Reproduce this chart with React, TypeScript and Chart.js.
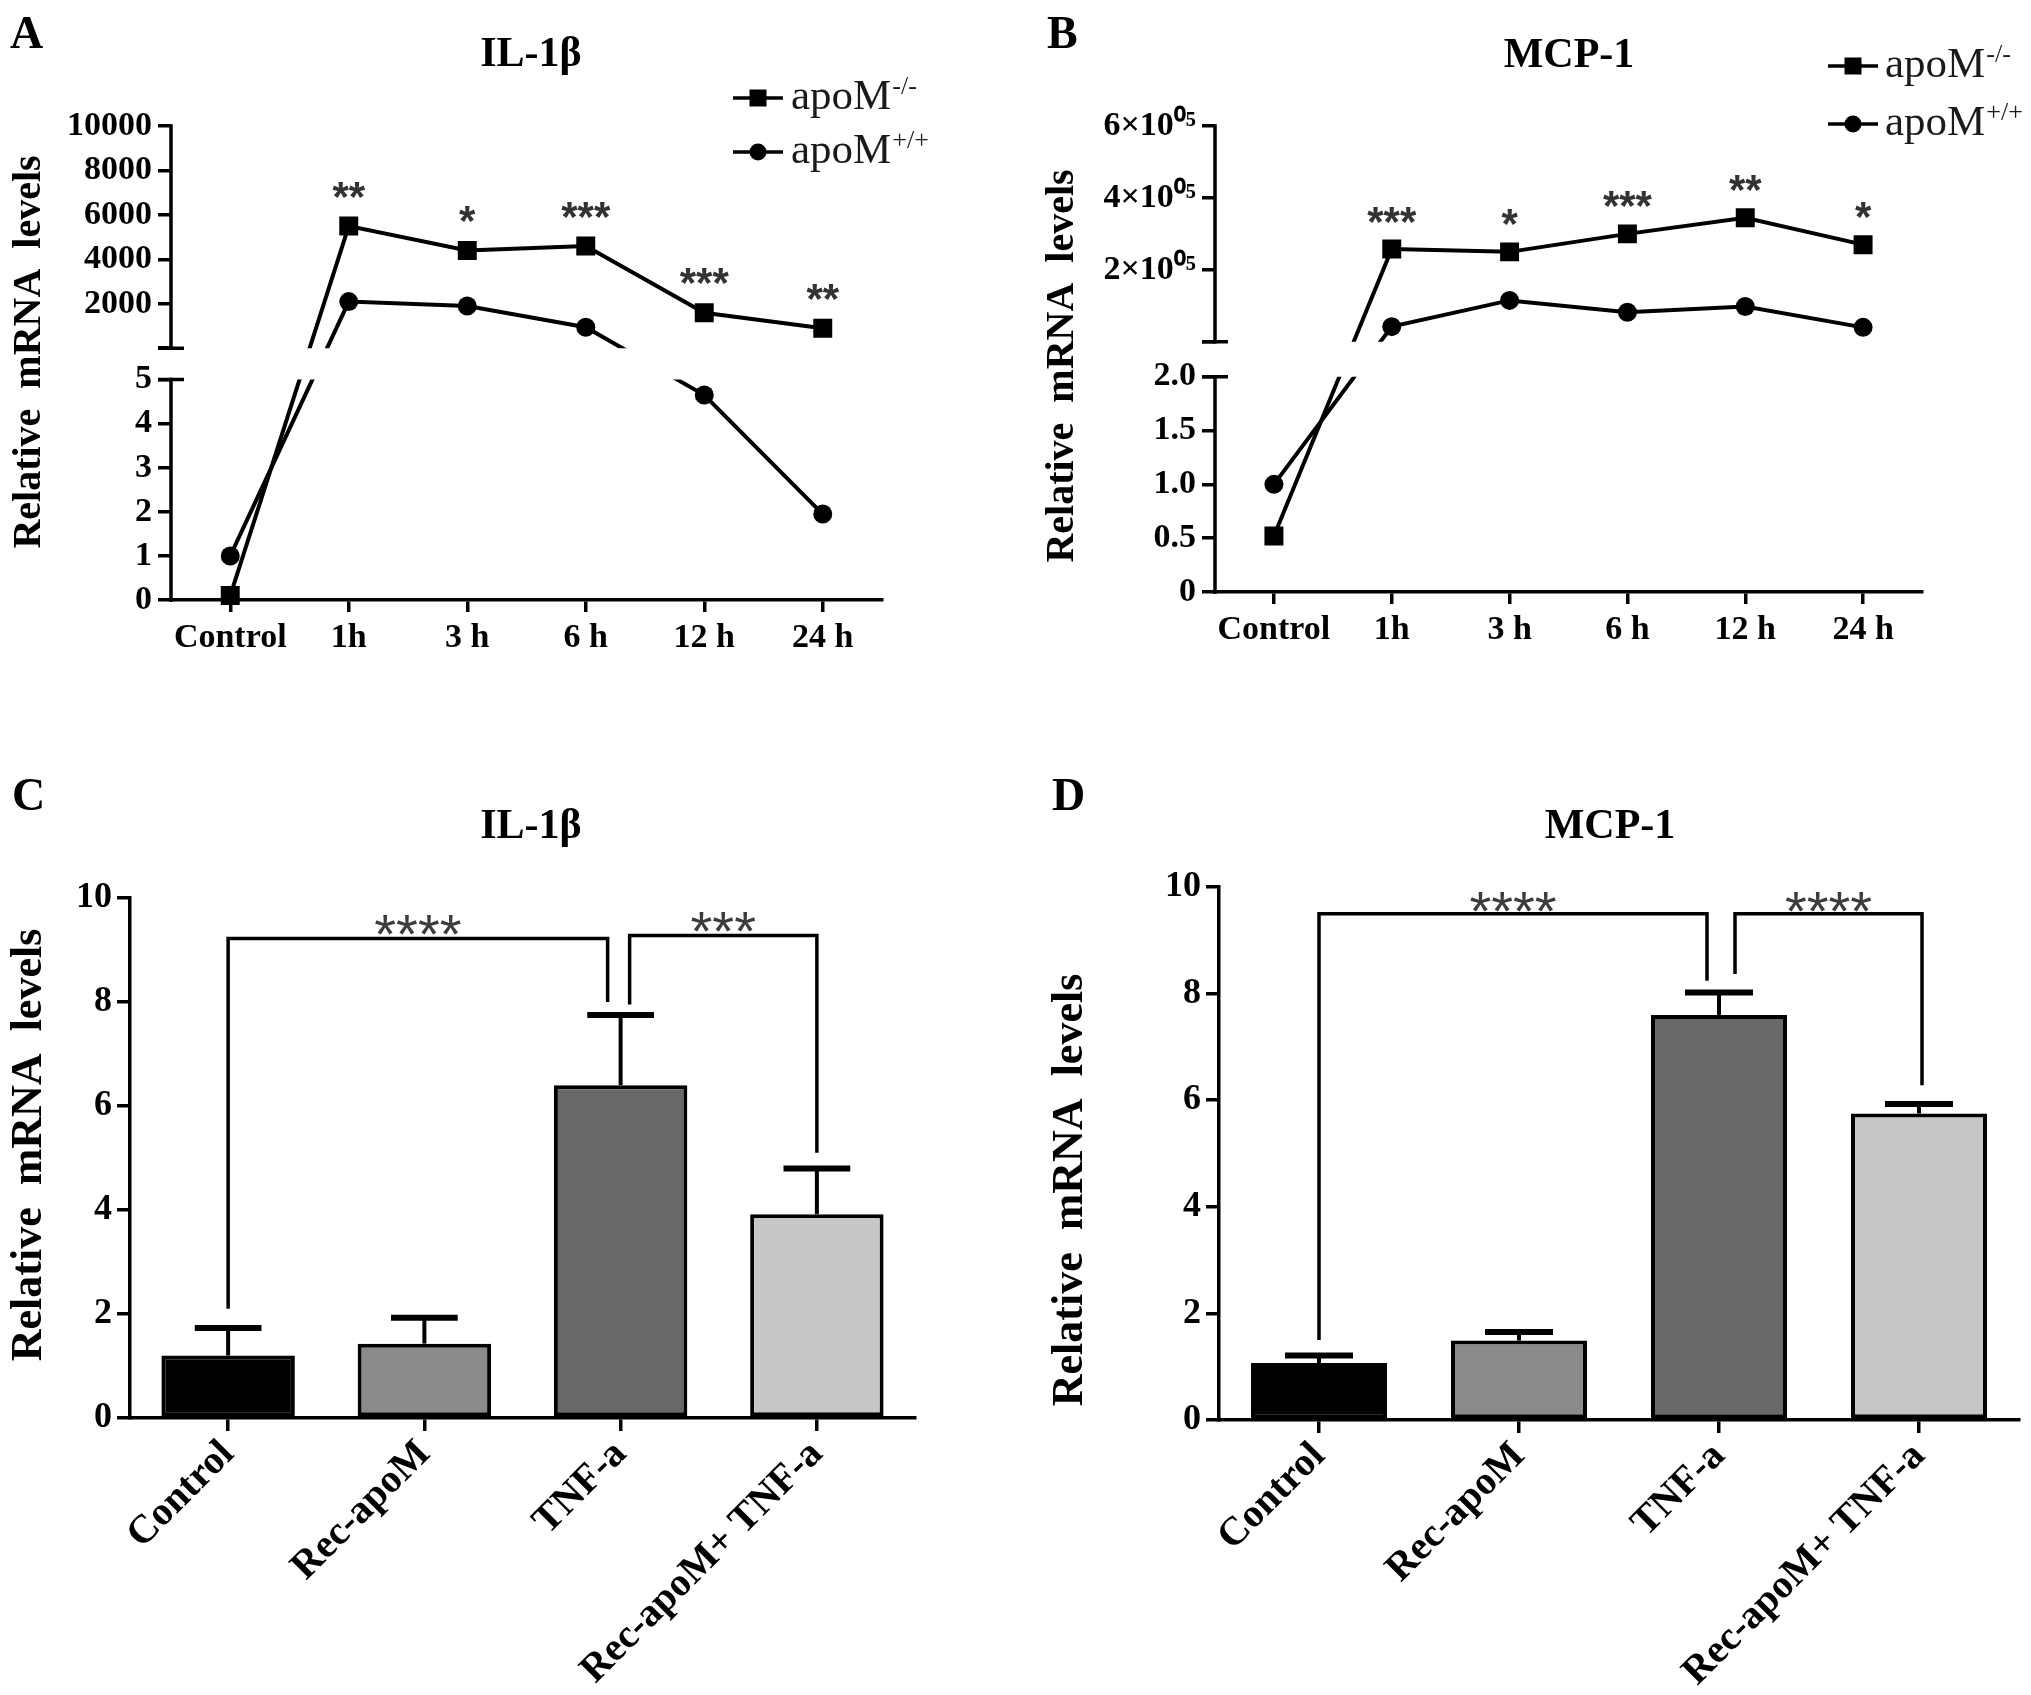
import React, { useEffect, useRef } from 'react';
import { Chart, registerables, LinearScale } from 'chart.js';

Chart.register(...registerables);

const SERIF = '"Liberation Serif", "Times New Roman", Times, serif';
const SANS = '"Liberation Sans", Arial, Helvetica, sans-serif';

// ---------------- data ----------------
const timeLabels = ['Control', '1h', '3 h', '6 h', '12 h', '24 h'];
const legendMain = 'apoM';
const legendSup = ['-/-', '+/+'];

const il1bKnockout = [0.1, 5500, 4400, 4600, 1600, 900];
const il1bWildType = [1.0, 2100, 1900, 950, 4.65, 1.95];
const il1bTimeStars = ['', '**', '*', '***', '***', '**'];
const il1bLowTicks = [0, 1, 2, 3, 4, 5];
const il1bHighTicks = [2000, 4000, 6000, 8000, 10000];
const il1bLowTickLabels = ['0', '1', '2', '3', '4', '5'];
const il1bHighTickLabels = ['2000', '4000', '6000', '8000', '10000'];

const mcp1Knockout = [0.52, 258000, 250000, 300000, 345000, 270000];
const mcp1WildType = [1.0, 42000, 115000, 82000, 98000, 40000];
const mcp1TimeStars = ['', '***', '*', '***', '**', '*'];
const mcp1LowTicks = [0, 0.5, 1, 1.5, 2];
const mcp1HighTicks = [200000, 400000, 600000];
const mcp1LowTickLabels = ['0', '0.5', '1.0', '1.5', '2.0'];
const mcp1HighTickLabels = ['2×10⁰⁵', '4×10⁰⁵', '6×10⁰⁵'];

const groupLabels = ['Control', 'Rec-apoM', 'TNF-a', 'Rec-apoM+ TNF-a'];
const groupColors = ['#000000', '#8a8a8a', '#686868', '#c6c6c6'];
const il1bGroupMean = [1.2, 1.43, 6.4, 3.92];
const il1bGroupSEM = [0.53, 0.5, 1.35, 0.88];
const mcp1GroupMean = [1.07, 1.49, 7.6, 5.75];
const mcp1GroupSEM = [0.14, 0.16, 0.42, 0.18];
const barTicks = [0, 2, 4, 6, 8, 10];

const il1bBrackets = [
  { from: 0, to: 2, level: 9.22, fromEnd: 2.1, toEnd: 8.0, label: '****' },
  { from: 2, to: 3, level: 9.28, fromEnd: 7.95, toEnd: 5.1, label: '***' },
];
const mcp1Brackets = [
  { from: 0, to: 2, level: 9.5, fromEnd: 1.5, toEnd: 8.24, label: '****' },
  { from: 2, to: 3, level: 9.5, fromEnd: 8.37, toEnd: 6.28, label: '****' },
];

// ---------------- layout / style ----------------
type Area = { left: number; right: number; top: number; bottom: number };
type Panel = {
  key: string; ox: number; oy: number; w: number; h: number; area: Area;
  letter: string; letterX: number; letterY: number;
  title: string; titleX: number; titleY: number;
  ytitle: string; ytitleX: number; ytitleY: number; ytitleSize: number;
};

const YTITLE = 'Relative  mRNA  levels';

const panelA: Panel = {
  key: 'A', ox: 0, oy: 0, w: 1015, h: 760, area: { left: 171, right: 882, top: 126, bottom: 600 },
  letter: 'A', letterX: 10, letterY: 48, title: 'IL-1β', titleX: 531, titleY: 66,
  ytitle: YTITLE, ytitleX: 30, ytitleY: 352, ytitleSize: 40,
};
const panelB: Panel = {
  key: 'B', ox: 1015, oy: 0, w: 1016, h: 760, area: { left: 1215, right: 1922, top: 126, bottom: 592 },
  letter: 'B', letterX: 1047, letterY: 48, title: 'MCP-1', titleX: 1569, titleY: 67,
  ytitle: YTITLE, ytitleX: 1063, ytitleY: 366, ytitleSize: 40,
};
const panelC: Panel = {
  key: 'C', ox: 0, oy: 760, w: 1015, h: 935, area: { left: 130, right: 915, top: 898, bottom: 1418 },
  letter: 'C', letterX: 12, letterY: 810, title: 'IL-1β', titleX: 531, titleY: 838,
  ytitle: YTITLE, ytitleX: 30, ytitleY: 1145, ytitleSize: 44,
};
const panelD: Panel = {
  key: 'D', ox: 1015, oy: 760, w: 1016, h: 935, area: { left: 1219, right: 2019, top: 887, bottom: 1420 },
  letter: 'D', letterX: 1052, letterY: 810, title: 'MCP-1', titleX: 1610, titleY: 838,
  ytitle: YTITLE, ytitleX: 1071, ytitleY: 1190, ytitleSize: 44,
};

type Brk = { lowMax: number; highMax: number; lowFrac: number; gapFrac: number; values: number[]; labels: string[] };

const brkA: Brk = {
  lowMax: 5, highMax: 10000, lowFrac: 0.465, gapFrac: 0.066,
  values: [...il1bLowTicks, 5 * (1 + 1e-7), ...il1bHighTicks],
  labels: [...il1bLowTickLabels, '', ...il1bHighTickLabels],
};
const brkB: Brk = {
  lowMax: 2, highMax: 600000, lowFrac: 0.462, gapFrac: 0.075,
  values: [...mcp1LowTicks, 2 * (1 + 1e-7), ...mcp1HighTicks],
  labels: [...mcp1LowTickLabels, '', ...mcp1HighTickLabels],
};

function brokenScale(id: string, brk: Brk) {
  return class extends LinearScale {
    static id = id;
    buildTicks() {
      return brk.values.map((value) => ({ value }));
    }
    getPixelForValue(value: number) {
      const H = this.bottom - this.top;
      const lowH = H * brk.lowFrac;
      if (value <= brk.lowMax) return this.bottom - (value / brk.lowMax) * lowH;
      const ub = this.bottom - lowH - H * brk.gapFrac;
      return ub - (value / brk.highMax) * (ub - this.top);
    }
    getValueForPixel(pixel: number) {
      const H = this.bottom - this.top;
      const lowH = H * brk.lowFrac;
      const lt = this.bottom - lowH;
      if (pixel >= lt) return ((this.bottom - pixel) / lowH) * brk.lowMax;
      const ub = lt - H * brk.gapFrac;
      return ((ub - pixel) / (ub - this.top)) * brk.highMax;
    }
  };
}

const BrokenA = brokenScale('brokenA', brkA);
const BrokenB = brokenScale('brokenB', brkB);
Chart.register(BrokenA as any, BrokenB as any);

const AXIS_W = 3.5;

function drawCommonText(ctx: CanvasRenderingContext2D, p: Panel) {
  ctx.save();
  ctx.translate(-p.ox, -p.oy);
  ctx.fillStyle = '#000';
  ctx.textBaseline = 'alphabetic';
  ctx.textAlign = 'left';
  ctx.font = `bold 46px ${SERIF}`;
  ctx.fillText(p.letter, p.letterX, p.letterY);
  ctx.textAlign = 'center';
  ctx.font = `bold 42px ${SERIF}`;
  ctx.fillText(p.title, p.titleX, p.titleY);
  ctx.save();
  ctx.translate(p.ytitleX, p.ytitleY);
  ctx.rotate(-Math.PI / 2);
  ctx.textBaseline = 'middle';
  ctx.font = `bold ${p.ytitleSize}px ${SERIF}`;
  ctx.fillText(p.ytitle, 0, 0);
  ctx.restore();
  ctx.restore();
}

type Legend = { x1: number; x2: number; textX: number; ys: number[] };

function linePlugin(p: Panel, brk: Brk, stars: string[], legend: Legend, starDy: number) {
  return {
    id: 'annot' + p.key,
    beforeDatasetsDraw(chart: any) {
      const ctx = chart.ctx;
      const ys = chart.scales.y;
      const lt = ys.getPixelForValue(brk.lowMax);
      const ub = ys.getPixelForValue(brk.lowMax * (1 + 1e-7));
      ctx.save();
      ctx.beginPath();
      ctx.rect(0, 0, chart.width, ub);
      ctx.rect(0, lt, chart.width, chart.height - lt);
      ctx.clip();
    },
    afterDatasetsDraw(chart: any) {
      chart.ctx.restore();
    },
    afterDraw(chart: any) {
      const ctx: CanvasRenderingContext2D = chart.ctx;
      const ys = chart.scales.y;
      const x = chart.chartArea.left;
      const lt = ys.getPixelForValue(brk.lowMax);
      const ub = ys.getPixelForValue(brk.lowMax * (1 + 1e-7));
      const top = ys.getPixelForValue(brk.highMax);
      ctx.save();
      ctx.strokeStyle = '#000';
      ctx.lineWidth = AXIS_W;
      ctx.lineCap = 'butt';
      ctx.beginPath();
      ctx.moveTo(x, top - AXIS_W / 2);
      ctx.lineTo(x, ub + AXIS_W / 2);
      ctx.moveTo(x, lt - AXIS_W / 2);
      ctx.lineTo(x, chart.chartArea.bottom + AXIS_W / 2);
      ctx.stroke();
      ctx.beginPath();
      ctx.moveTo(x - 13, ub);
      ctx.lineTo(x + 13, ub);
      ctx.moveTo(x - 13, lt);
      ctx.lineTo(x + 13, lt);
      ctx.stroke();

      // significance stars above knockout points
      const meta = chart.getDatasetMeta(0);
      ctx.fillStyle = '#333';
      ctx.font = `bold 42px ${SANS}`;
      ctx.textAlign = 'center';
      ctx.textBaseline = 'alphabetic';
      stars.forEach((s, i) => {
        if (!s) return;
        const pt = meta.data[i];
        ctx.fillText(s, pt.x, pt.y - starDy + 0.56 * 42);
      });
      ctx.restore();

      drawCommonText(ctx, p);

      // legend
      ctx.save();
      ctx.translate(-p.ox, -p.oy);
      legend.ys.forEach((y, i) => {
        ctx.strokeStyle = '#000';
        ctx.fillStyle = '#000';
        ctx.lineWidth = 3.5;
        ctx.beginPath();
        ctx.moveTo(legend.x1, y);
        ctx.lineTo(legend.x2, y);
        ctx.stroke();
        const cx = (legend.x1 + legend.x2) / 2;
        ctx.beginPath();
        if (i === 0) ctx.rect(cx - 8.5, y - 8.5, 17, 17);
        else ctx.arc(cx, y, 8.5, 0, Math.PI * 2);
        ctx.fill();
        ctx.fillStyle = '#1a1a1a';
        ctx.textAlign = 'left';
        ctx.textBaseline = 'alphabetic';
        ctx.font = `43px ${SERIF}`;
        ctx.fillText(legendMain, legend.textX, y + 11);
        const wMain = ctx.measureText(legendMain).width;
        ctx.font = `26px ${SERIF}`;
        ctx.fillText(legendSup[i], legend.textX + wMain + 1, y - 4);
      });
      ctx.restore();
    },
  };
}

function lineConfig(p: Panel, scaleId: string, brk: Brk, ko: number[], wt: number[], stars: string[], legend: Legend, starDy: number) {
  const tickFont = { family: SERIF, size: 34, weight: 'bold' as const };
  const common = { borderColor: '#000', backgroundColor: '#000', pointBackgroundColor: '#000', borderWidth: 4, pointBorderWidth: 0, tension: 0, clip: false as const };
  return {
    type: 'line' as const,
    data: {
      labels: timeLabels,
      datasets: [
        { label: 'apoM-/-', data: ko, pointStyle: 'rect', pointRadius: 13.4, ...common },
        { label: 'apoM+/+', data: wt, pointStyle: 'circle', pointRadius: 9.5, ...common },
      ],
    },
    options: {
      responsive: false,
      animation: false,
      events: [],
      layout: { padding: { left: 0, top: p.area.top - p.oy, right: p.ox + p.w - p.area.right, bottom: 0 } },
      plugins: { legend: { display: false }, tooltip: { enabled: false }, title: { display: false } },
      scales: {
        x: {
          type: 'category',
          offset: true,
          grid: { display: true, offset: false, drawOnChartArea: false, drawTicks: true, tickLength: 12, color: '#000', lineWidth: AXIS_W },
          border: { display: true, color: '#000', width: AXIS_W },
          ticks: { color: '#000', font: tickFont, padding: 6, maxRotation: 0, minRotation: 0, autoSkip: false },
          afterFit: (s: any) => { s.height = p.oy + p.h - p.area.bottom; },
        },
        y: {
          type: scaleId,
          min: 0,
          max: brk.highMax,
          grid: { display: true, drawOnChartArea: false, drawTicks: true, tickLength: 13, color: '#000', lineWidth: AXIS_W },
          border: { display: false },
          ticks: { color: '#000', font: tickFont, padding: 6, autoSkip: false, callback: (_v: any, i: number) => brk.labels[i] },
          afterFit: (s: any) => { s.width = p.area.left - p.ox; },
        },
      },
    },
    plugins: [linePlugin(p, brk, stars, legend, starDy)],
  };
}

type Bracket = { from: number; to: number; level: number; fromEnd: number; toEnd: number; label: string };

function barPlugin(p: Panel, mean: number[], sem: number[], brackets: Bracket[], legDx: number[][], starGap: number) {
  return {
    id: 'annot' + p.key,
    afterDatasetsDraw(chart: any) {
      const ctx: CanvasRenderingContext2D = chart.ctx;
      const ys = chart.scales.y;
      const meta = chart.getDatasetMeta(0);
      ctx.save();
      ctx.strokeStyle = '#000';
      ctx.lineCap = 'butt';
      meta.data.forEach((bar: any, i: number) => {
        const x = bar.x;
        const w = bar.width;
        const y0 = ys.getPixelForValue(mean[i]);
        const y1 = ys.getPixelForValue(mean[i] + sem[i]);
        ctx.lineWidth = 4;
        ctx.beginPath();
        ctx.moveTo(x, y0);
        ctx.lineTo(x, y1);
        ctx.stroke();
        ctx.lineWidth = 6;
        ctx.beginPath();
        ctx.moveTo(x - w * 0.25, y1);
        ctx.lineTo(x + w * 0.25, y1);
        ctx.stroke();
      });
      brackets.forEach((b, k) => {
        const xa = meta.data[b.from].x + legDx[k][0];
        const xb = meta.data[b.to].x + legDx[k][1];
        const yt = ys.getPixelForValue(b.level);
        ctx.lineWidth = 3.5;
        ctx.lineJoin = 'miter';
        ctx.beginPath();
        ctx.moveTo(xa, ys.getPixelForValue(b.fromEnd));
        ctx.lineTo(xa, yt);
        ctx.lineTo(xb, yt);
        ctx.lineTo(xb, ys.getPixelForValue(b.toEnd));
        ctx.stroke();
        ctx.fillStyle = '#3c3c3c';
        ctx.font = `56px ${SANS}`;
        ctx.textAlign = 'center';
        ctx.textBaseline = 'alphabetic';
        ctx.fillText(b.label, (xa + xb) / 2, yt - starGap + 0.56 * 56);
      });
      ctx.restore();
    },
    afterDraw(chart: any) {
      drawCommonText(chart.ctx, p);
    },
  };
}

function barConfig(p: Panel, mean: number[], sem: number[], brackets: Bracket[], legDx: number[][], starGap: number) {
  const tickFont = { family: SERIF, size: 36, weight: 'bold' as const };
  return {
    type: 'bar' as const,
    data: {
      labels: groupLabels,
      datasets: [{ data: mean, backgroundColor: groupColors, borderColor: '#000', borderWidth: 4, borderSkipped: false, barPercentage: 0.68, categoryPercentage: 1 }],
    },
    options: {
      responsive: false,
      animation: false,
      events: [],
      layout: { padding: { left: 0, top: p.area.top - p.oy, right: p.ox + p.w - p.area.right, bottom: 0 } },
      plugins: { legend: { display: false }, tooltip: { enabled: false }, title: { display: false } },
      scales: {
        x: {
          type: 'category',
          offset: true,
          grid: { display: true, offset: false, drawOnChartArea: false, drawTicks: true, tickLength: 13, color: '#000', lineWidth: AXIS_W },
          border: { display: true, color: '#000', width: AXIS_W },
          ticks: { color: '#000', font: { family: SERIF, size: 40, weight: 'bold' as const }, padding: 0, maxRotation: 45, minRotation: 45, autoSkip: false },
          afterFit: (s: any) => { s.height = p.oy + p.h - p.area.bottom; },
        },
        y: {
          type: 'linear',
          min: 0,
          max: 10,
          afterBuildTicks: (s: any) => { s.ticks = barTicks.map((v) => ({ value: v })); },
          grid: { display: true, drawOnChartArea: false, drawTicks: true, tickLength: 13, color: '#000', lineWidth: AXIS_W },
          border: { display: true, color: '#000', width: AXIS_W },
          ticks: { color: '#000', font: tickFont, padding: 5, autoSkip: false },
          afterFit: (s: any) => { s.width = p.area.left - p.ox; },
        },
      },
    },
    plugins: [barPlugin(p, mean, sem, brackets, legDx, starGap)],
  };
}

const legendA: Legend = { x1: 733, x2: 783, textX: 791, ys: [98, 152] };
const legendB: Legend = { x1: 1828, x2: 1878, textX: 1885, ys: [66, 124] };

export default function App() {
  const refA = useRef<HTMLCanvasElement>(null);
  const refB = useRef<HTMLCanvasElement>(null);
  const refC = useRef<HTMLCanvasElement>(null);
  const refD = useRef<HTMLCanvasElement>(null);

  useEffect(() => {
    document.body.style.margin = '0';
    const charts = [
      new Chart(refA.current as HTMLCanvasElement, lineConfig(panelA, 'brokenA', brkA, il1bKnockout, il1bWildType, il1bTimeStars, legendA, 39) as any),
      new Chart(refB.current as HTMLCanvasElement, lineConfig(panelB, 'brokenB', brkB, mcp1Knockout, mcp1WildType, mcp1TimeStars, legendB, 37) as any),
      new Chart(refC.current as HTMLCanvasElement, barConfig(panelC, il1bGroupMean, il1bGroupSEM, il1bBrackets, [[0, -13], [9, 0]], 17) as any),
      new Chart(refD.current as HTMLCanvasElement, barConfig(panelD, mcp1GroupMean, mcp1GroupSEM, mcp1Brackets, [[0, -12], [16, 3]], 15) as any),
    ];
    return () => charts.forEach((c) => c.destroy());
  }, []);

  const panels: [Panel, React.RefObject<HTMLCanvasElement>][] = [[panelA, refA], [panelB, refB], [panelC, refC], [panelD, refD]];
  return (
    <div style={{ position: 'absolute', left: 0, top: 0, width: 2031, height: 1695, background: '#fff' }}>
      {panels.map(([p, r]) => (
        <canvas key={p.key} ref={r} width={p.w} height={p.h}
          style={{ position: 'absolute', left: p.ox, top: p.oy, width: p.w, height: p.h, display: 'block' }} />
      ))}
    </div>
  );
}
